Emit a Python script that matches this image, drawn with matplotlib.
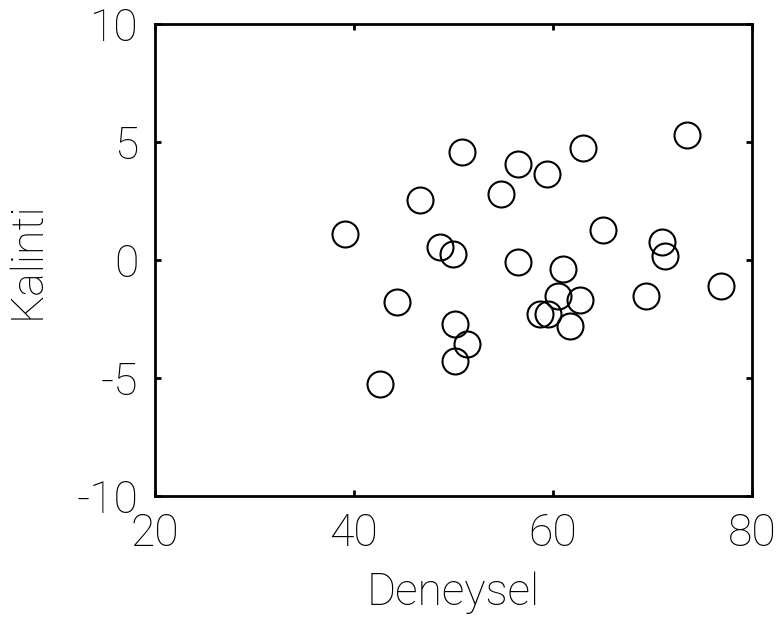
import matplotlib
matplotlib.use("Agg")
import matplotlib.pyplot as plt

deneysel = [39.06, 44.33, 42.66, 46.61, 48.62, 49.96, 50.87, 50.13, 51.31, 50.13,
            54.73, 56.44, 56.44, 59.42, 63.04, 61.03, 64.99, 60.52, 62.71, 58.68,
            59.52, 61.70, 73.50, 70.93, 71.26, 69.32, 76.86]
kalinti = [1.11, -1.77, -5.27, 2.53, 0.54, 0.26, 4.59, -2.71, -3.57, -4.28,
           2.79, 4.05, -0.09, 3.63, 4.73, -0.40, 1.26, -1.51, -1.69, -2.29,
           -2.29, -2.79, 5.30, 0.76, 0.19, -1.51, -1.09]

xticks = [20, 40, 60, 80]
yticks = [-10, -5, 0, 5, 10]

plt.rcParams['font.family'] = ['Roboto', 'DejaVu Sans']
plt.rcParams['font.weight'] = 'light'

fig = plt.figure(figsize=(7.76, 6.19), dpi=100)
ax = fig.add_axes([155/776, 1 - 496/619, (752 - 155)/776, (496 - 24)/619])

ax.plot(deneysel, kalinti, linestyle='none', marker='o', markersize=18.7,
        markerfacecolor='none', markeredgecolor='black', markeredgewidth=1.5)

ax.set_xlim(20, 80)
ax.set_ylim(-10, 10)
ax.set_xticks(xticks)
ax.set_yticks(yticks)
ax.set_xticklabels([str(v) for v in xticks])
ax.set_yticklabels([str(v) for v in yticks])

for s in ax.spines.values():
    s.set_linewidth(2)
ax.tick_params(direction='in', length=4, width=2, labelsize=32,
               top=True, right=True, labeltop=False, labelright=False)
ax.tick_params(axis='y', pad=12)
ax.tick_params(axis='x', pad=12)

ax.set_xlabel('Deneysel', fontsize=32, labelpad=12, fontweight='light')
ax.set_ylabel('Kalinti', fontsize=32, labelpad=20, fontweight='light')

fig.savefig('out.png', dpi=100)
